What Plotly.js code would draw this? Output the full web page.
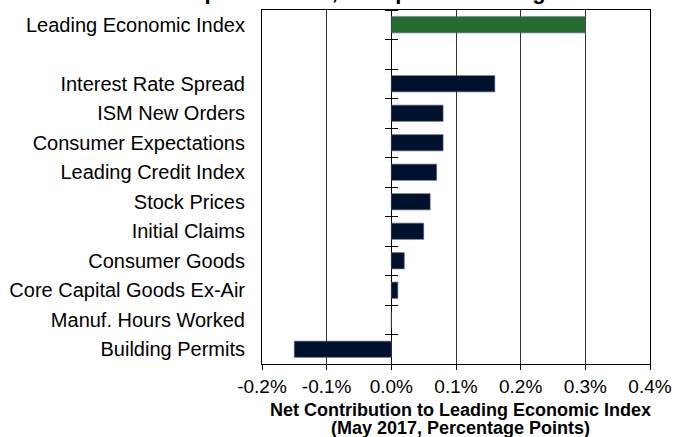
<!DOCTYPE html>
<html>
<head>
<meta charset="utf-8">
<script src="https://cdn.plot.ly/plotly-3.0.1.min.js"></script>
<style>html,body{margin:0;padding:0;background:#fff;}#chart{width:674px;height:437px;}</style>
</head>
<body>
<div id="chart"></div>
<script>
const categories = ["Leading Economic Index", " ", "Interest Rate Spread", "ISM New Orders", "Consumer Expectations", "Leading Credit Index", "Stock Prices", "Initial Claims", "Consumer Goods", "Core Capital Goods Ex-Air", "Manuf. Hours Worked", "Building Permits"];
const values = [0.30, null, 0.16, 0.08, 0.08, 0.07, 0.06, 0.05, 0.02, 0.01, 0.00, -0.15];
const xTickValues = [-0.2, -0.1, 0.0, 0.1, 0.2, 0.3, 0.4];
const xTickLabels = ["-0.2%", "-0.1%", "0.0%", "0.1%", "0.2%", "0.3%", "0.4%"];
const titleText = "Widespread Gains, Except for Housing Permits";
const xTitleLines = ["Net Contribution to Leading Economic Index", "(May 2017, Percentage Points)"];

const GREEN = "#246b2f";
const NAVY = "#00112e";
const FONT = "Arial, 'Liberation Sans', sans-serif";

const barColors = categories.map((c, i) => i === 0 ? GREEN : NAVY);
const boundaryTicks = [];
for (let i = 0; i <= categories.length; i++) boundaryTicks.push(i - 0.5);

const traces = [
  {
    type: "bar",
    orientation: "h",
    y: categories,
    x: values,
    width: 0.55,
    marker: { color: barColors, line: { color: "#4d5670", width: 0.6 } },
    hoverinfo: "x+y",
    showlegend: false
  },
  { type: "scatter", mode: "markers", x: [null], y: [null], yaxis: "y2", hoverinfo: "skip", showlegend: false },
  { type: "scatter", mode: "markers", x: [null], y: [null], yaxis: "y3", hoverinfo: "skip", showlegend: false }
];

const yRange = [categories.length - 0.5, -0.5];
const zeroPos = (0 - xTickValues[0]) / (xTickValues[xTickValues.length - 1] - xTickValues[0]);

const xTitleAnnotations = xTitleLines.map((line, i) => ({
  text: "<b>" + line + "</b>",
  font: { family: FONT, size: 18, color: "#000" },
  xref: "paper", x: 0.5, xanchor: "center", xshift: 4,
  yref: "paper", y: 0, yanchor: "top", yshift: -34 - 18 * i,
  showarrow: false
}));

const layout = {
  width: 674,
  height: 437,
  margin: { l: 262, r: 24, t: 9.5, b: 73 },
  paper_bgcolor: "#ffffff",
  plot_bgcolor: "#ffffff",
  font: { family: FONT, color: "#000" },
  annotations: [{
    text: "<b>" + titleText + "</b>",
    font: { family: FONT, size: 22, color: "#000" },
    xref: "paper", x: (386 - 262) / (650 - 262), xanchor: "center",
    yref: "paper", y: 1, yanchor: "bottom", yshift: 4,
    showarrow: false
  }].concat(xTitleAnnotations),
  xaxis: {
    range: [xTickValues[0], xTickValues[xTickValues.length - 1]],
    tickmode: "array",
    tickvals: xTickValues,
    ticktext: xTickLabels,
    tickfont: { family: FONT, size: 19, color: "#000" },
    ticks: "outside", ticklen: 5, tickcolor: "#000", tickwidth: 1,
    showline: true, linecolor: "#000", linewidth: 1, mirror: true,
    showgrid: true, gridcolor: "#333333", gridwidth: 1,
    zeroline: true, zerolinecolor: "#000", zerolinewidth: 1,
    automargin: false,
    fixedrange: true
  },
  yaxis: {
    type: "category",
    categoryorder: "array",
    categoryarray: categories,
    range: yRange,
    tickfont: { family: FONT, size: 20, color: "#000" },
    ticks: "outside", ticklen: 12, tickcolor: "rgba(0,0,0,0)",
    showline: true, linecolor: "#000", linewidth: 1, mirror: true,
    showgrid: false, zeroline: false,
    fixedrange: true
  },
  yaxis2: {
    overlaying: "y", anchor: "free", position: zeroPos, side: "left",
    range: yRange, tickmode: "array", tickvals: boundaryTicks,
    showticklabels: false, ticks: "outside", ticklen: 6, tickcolor: "#000", tickwidth: 1,
    showline: false, showgrid: false, zeroline: false, fixedrange: true
  },
  yaxis3: {
    overlaying: "y", anchor: "free", position: zeroPos, side: "right",
    range: yRange, tickmode: "array", tickvals: boundaryTicks,
    showticklabels: false, ticks: "outside", ticklen: 6, tickcolor: "#000", tickwidth: 1,
    showline: false, showgrid: false, zeroline: false, fixedrange: true
  },
  bargap: 0.45
};

Plotly.newPlot("chart", traces, layout, { displayModeBar: false, staticPlot: true });
</script>
</body>
</html>
